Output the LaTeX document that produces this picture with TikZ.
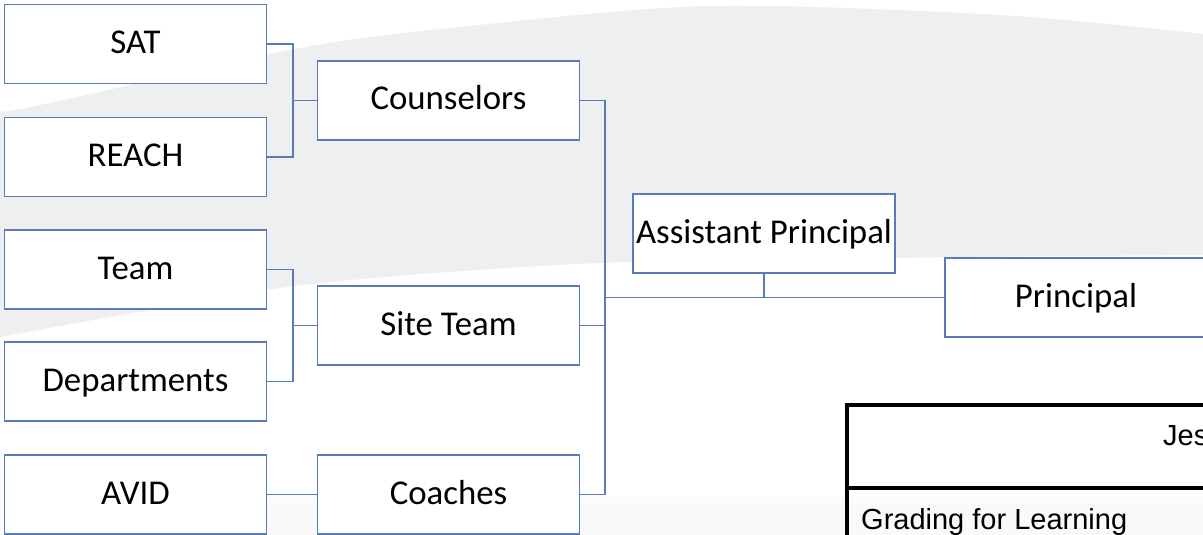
\documentclass[tikz,border=0pt]{standalone}
\usepackage{fontspec}
\setmainfont{Carlito}
\newfontfamily\arialfont{Liberation Sans}
\definecolor{boxblue}{RGB}{90,122,186}
\definecolor{swooshgrey}{RGB}{238,239,241}
\definecolor{faintgrey}{RGB}{250,250,250}
\begin{document}
\begin{tikzpicture}[x=1pt,y=-1pt,
  orgbox/.style={draw=boxblue, line width=1.4pt, fill=white, minimum width=262pt, minimum height=79pt,
    inner sep=0pt, font=\fontsize{34.8pt}{38pt}\selectfont, text height=23pt, text depth=4pt},
  link/.style={draw=boxblue, line width=1.4pt},
  tableline/.style={draw=black, line width=3.2pt},
  tabletext/.style={font=\arialfont\fontsize{29pt}{32pt}\selectfont, inner sep=0pt, anchor=base west}]
\useasboundingbox (0,0) rectangle (1203,535);
\begin{scope}
\clip (0,0) rectangle (1203,535);
\fill[white] (0,0) rectangle (1203,535);
% background swoosh
\fill[swooshgrey] plot[smooth] coordinates {(0,112) (50,103) (300,48) (460,27) (710,6) (1000,15) (1203,34)}
  -- (1203,255) -- plot[smooth] coordinates {(1203,255) (960,257) (600,263) (320,283) (150,310) (0,337)} -- cycle;
\fill[faintgrey] (230,497) rectangle (1203,535);

% boxes
\node[orgbox] (sat) at (135.5,44) {SAT};
\node[orgbox] (reach) at (135.5,157) {REACH};
\node[orgbox] (team) at (135.5,269.5) {Team};
\node[orgbox] (dept) at (135.5,381.5) {Departments};
\node[orgbox] (avid) at (135.5,494.5) {AVID};
\node[orgbox] (couns) at (448.5,100.5) {Counselors};
\node[orgbox] (site) at (448.5,325.5) {Site Team};
\node[orgbox] (coach) at (448.5,494.5) {Coaches};
\node[orgbox] (ap) at (764,233.5) {Assistant Principal};
\node[orgbox] (princ) at (1076,297.5) {Principal};

% connectors
\coordinate (j1) at (293,100.5);
\coordinate (j2) at (293,325.5);
\draw[link] (sat.east) -| (j1) |- (reach.east);
\draw[link] (j1) -- (couns.west);
\draw[link] (team.east) -| (j2) |- (dept.east);
\draw[link] (j2) -- (site.west);
\draw[link] (avid.east) -- (coach.west);
\coordinate (bt) at (605,100.5);
\coordinate (bb) at (605,494.5);
\draw[link] (couns.east) -- (bt) -- (bb) -- (coach.east);
\draw[link] (site.east) -- (site.east -| bt);
\draw[link] (bt |- princ.west) -- (princ.west);
\draw[link] (ap.south) -- (ap.south |- princ.west);

% table fragment
\draw[tableline] (847,545) -- (847,405) -- (1215,405);
\draw[tableline] (847,488) -- (1215,488);
\node[tabletext] (jes) at (1163,445) {Jes};
\node[tabletext] (gfl) at (861,529) {Grading for Learning};
\end{scope}
\end{tikzpicture}
\end{document}
